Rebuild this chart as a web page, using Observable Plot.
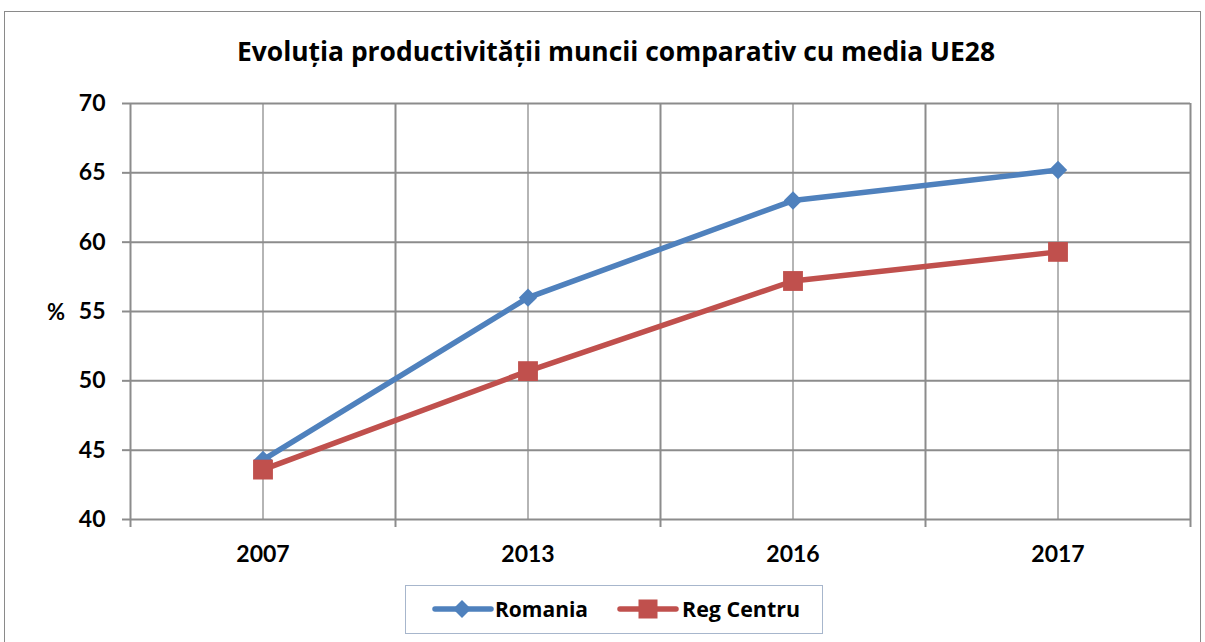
<!DOCTYPE html>
<html>
<head>
<meta charset="utf-8">
<script src="https://cdn.jsdelivr.net/npm/d3@7"></script>
<script src="https://cdn.jsdelivr.net/npm/@observablehq/plot@0.6"></script>
<style>
  html, body { margin: 0; padding: 0; background: #fff; width: 1205px; height: 642px; overflow: hidden; font-family: Lato, "Open Sans", sans-serif; }
  #frame { position: absolute; left: 4px; top: 11px; width: 1197px; height: 640px; border: 1.5px solid #8a8a8a; box-sizing: border-box; }
  #title { position: absolute; left: 0; top: 0; }
  #chart { position: absolute; left: 0; top: 80px; }
  #ylab { position: absolute; left: 47px; top: 298px; font-size: 22px; font-weight: bold; }
  #legend { position: absolute; left: 405px; top: 585px; width: 418px; height: 49px; border: 1.5px solid #a7b6cc; box-sizing: border-box; }
  #legend svg { position: absolute; left: -1.5px; top: -1.5px; }
</style>
</head>
<body>
<div id="frame"></div>
<svg id="title" width="1205" height="80"></svg>
<div id="chart"></div>
<div id="ylab">%</div>
<div id="legend"></div>
<script>
const titleText = "Evoluția productivității muncii comparativ cu media UE28";
const years = ["2007", "2013", "2016", "2017"];
const romania = [44.3, 56.0, 63.0, 65.2];
const regCentru = [43.6, 50.7, 57.2, 59.3];
const seriesNames = ["Romania", "Reg Centru"];
const seriesColors = ["#4f81bd", "#c0504d"];
const yTicks = [40, 45, 50, 55, 60, 65, 70];

// title
d3.select("#title").append("text")
  .attr("x", 616).attr("y", 61).attr("text-anchor", "middle")
  .attr("textLength", 758).attr("lengthAdjust", "spacingAndGlyphs")
  .style("font-family", "'Open Sans', Lato, sans-serif").style("font-weight", "bold").style("font-size", "26px")
  .text(titleText);

const rows = [];
years.forEach((y, i) => {
  rows.push({ series: seriesNames[0], i, value: romania[i] });
  rows.push({ series: seriesNames[1], i, value: regCentru[i] });
});
const centers = years.map((y, i) => i);
const bounds = d3.range(-0.5, years.length, 1);

const gridDark = "#8c8c8c";
const gridLight = "#b5b5b5";

const plot = Plot.plot({
  width: 1205,
  height: 500,
  marginTop: 23,
  marginBottom: 61,
  marginLeft: 130,
  marginRight: 15,
  style: { fontFamily: "Lato, 'Open Sans', sans-serif", fontSize: "23px", fontWeight: "bold", color: "#000", background: "transparent", overflow: "visible" },
  x: { type: "linear", domain: [-0.5, years.length - 0.5] },
  y: { domain: [40, 70] },
  marks: [
    Plot.ruleX(centers, { stroke: gridLight, strokeWidth: 2 }),
    Plot.ruleX(bounds, { stroke: gridDark, strokeWidth: 2 }),
    Plot.ruleY(yTicks, { stroke: gridDark, strokeWidth: 2 }),
    Plot.axisY({ ticks: yTicks, tickSize: 8, tickPadding: 17, label: null, stroke: gridDark, strokeWidth: 2 }),
    Plot.axisX({ ticks: bounds, tickSize: 8, tickFormat: () => "", label: null, stroke: gridDark, strokeWidth: 2 }),
    Plot.axisX({ ticks: centers, tickSize: 0, tickPadding: 26, tickFormat: i => years[i], label: null }),
    Plot.line(rows.filter(d => d.series === seriesNames[0]), { x: "i", y: "value", stroke: seriesColors[0], strokeWidth: 5.5 }),
    Plot.line(rows.filter(d => d.series === seriesNames[1]), { x: "i", y: "value", stroke: seriesColors[1], strokeWidth: 5.5 }),
    Plot.dot(rows.filter(d => d.series === seriesNames[0]), { x: "i", y: "value", symbol: "diamond2", r: 8.3, fill: seriesColors[0], stroke: "none" }),
    Plot.dot(rows.filter(d => d.series === seriesNames[1]), { x: "i", y: "value", symbol: "square", r: 11.2, fill: seriesColors[1], stroke: "none" })
  ]
});
document.getElementById("chart").appendChild(plot);

// legend (coordinates relative to the legend box at 405,585)
const lg = d3.select("#legend").append("svg").attr("width", 420).attr("height", 50);
const items = [
  { x0: 30, x1: 86, cx: 57, tx: 90, tl: 93 },
  { x0: 215, x1: 271, cx: 243, tx: 277, tl: 118 }
];
seriesNames.forEach((name, k) => {
  const it = items[k];
  lg.append("line").attr("x1", it.x0).attr("x2", it.x1).attr("y1", 24).attr("y2", 24)
    .attr("stroke", seriesColors[k]).attr("stroke-width", 5.5).attr("stroke-linecap", "round");
  if (k === 0) {
    lg.append("path").attr("d", `M${it.cx},15 L${it.cx + 9},24 L${it.cx},33 L${it.cx - 9},24 Z`).attr("fill", seriesColors[k]);
  } else {
    lg.append("rect").attr("x", it.cx - 9.5).attr("y", 14.5).attr("width", 19).attr("height", 19).attr("fill", seriesColors[k]);
  }
  lg.append("text").attr("x", it.tx).attr("y", 32)
    .attr("textLength", it.tl).attr("lengthAdjust", "spacingAndGlyphs")
    .style("font-family", "'Open Sans', Lato, sans-serif").style("font-weight", "bold").style("font-size", "22px")
    .text(name);
});
</script>
</body>
</html>
